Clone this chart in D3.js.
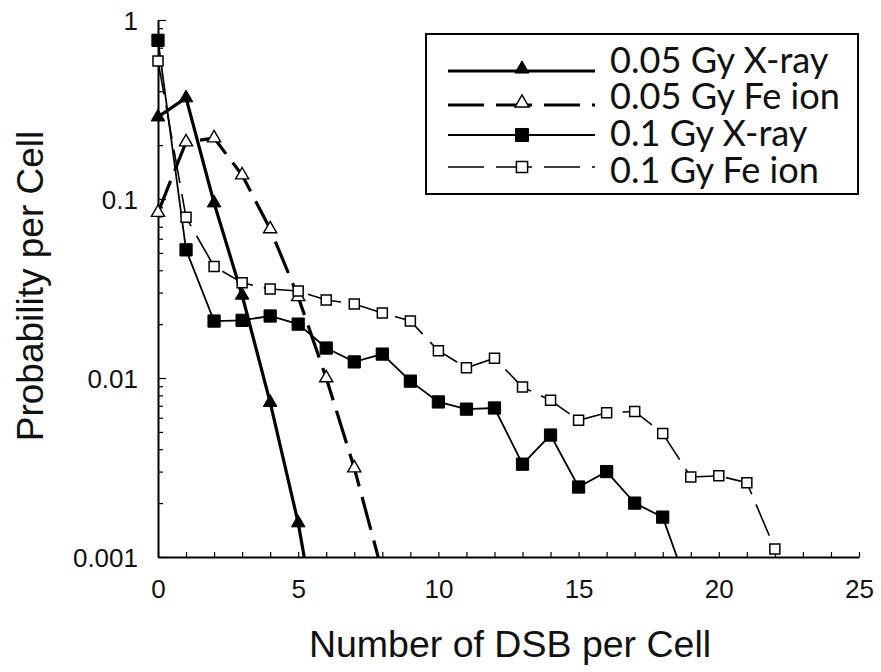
<!DOCTYPE html>
<html><head><meta charset="utf-8">
<script src="https://cdn.jsdelivr.net/npm/d3@7"></script>
<style>body{margin:0;background:#fff}svg{display:block}</style>
</head><body>
<svg id="c" width="881" height="672"></svg>
<script>
// ---------- data ----------
const seriesNames = ["0.05 Gy X-ray", "0.05 Gy Fe ion", "0.1 Gy X-ray", "0.1 Gy Fe ion"];
const xray005X = [0, 1, 2, 3, 4, 5, 6];
const xray005Y = [0.287, 0.367, 0.095, 0.029, 0.0073, 0.00155, 0.0002];
const fe005X = [0, 1, 2, 3, 4, 5, 6, 7, 8];
const fe005Y = [0.084, 0.208, 0.219, 0.136, 0.068, 0.0284, 0.0100, 0.00314, 0.00082];
const xray01X = [0, 1, 2, 3, 4, 5, 6, 7, 8, 9, 10, 11, 12, 13, 14, 15, 16, 17, 18, 19];
const xray01Y = [0.77, 0.052, 0.0208, 0.021, 0.0222, 0.020, 0.0147, 0.0123, 0.0136, 0.0096,
                 0.00735, 0.0067, 0.0068, 0.0033, 0.0048, 0.00246, 0.0030, 0.0020, 0.00167, 0.00061];
const fe01X = [0, 1, 2, 3, 4, 5, 6, 7, 8, 9, 10, 11, 12, 13, 14, 15, 16, 17, 18, 19, 20, 21, 22];
const fe01Y = [0.59, 0.079, 0.042, 0.034, 0.0314, 0.0306, 0.0273, 0.0259, 0.0231, 0.0208,
               0.0142, 0.0114, 0.0129, 0.0089, 0.0075, 0.0058, 0.0064, 0.0065, 0.0049, 0.0028,
               0.00284, 0.0026, 0.00111];
const xTickValues = [0, 5, 10, 15, 20, 25];
const yTickValues = [0.001, 0.01, 0.1, 1];
const yTickLabels = ["0.001", "0.01", "0.1", "1"];
const xTitle = "Number of DSB per Cell";
const yTitle = "Probability per Cell";

// ---------- layout ----------
const L = 158, R = 859, T = 20, B = 557;
const svg = d3.select("#c");
const x = d3.scaleLinear().domain([0, 25]).range([L, R]);
const y = d3.scaleLog().domain([0.001, 1]).range([B, T]);
const tickFont = "'Liberation Sans', Arial, Helvetica, sans-serif";

const styles = [
  {w: 3.2, dash: null, sym: d3.symbolTriangle, size: 80, fill: "#000", stroke: "#000", sw: 1},
  {w: 3.2, dash: "34,11", sym: d3.symbolTriangle, size: 75, fill: "#fff", stroke: "#000", sw: 1.4},
  {w: 1.8, dash: null, sym: d3.symbolSquare, size: 150, fill: "#000", stroke: "#000", sw: 1},
  {w: 1.6, dash: "34,11", sym: d3.symbolSquare, size: 100, fill: "#fff", stroke: "#000", sw: 1.5}
];
const series = [
  {xs: xray005X, ys: xray005Y},
  {xs: fe005X, ys: fe005Y},
  {xs: xray01X, ys: xray01Y},
  {xs: fe01X, ys: fe01Y}
].map((s, i) => ({name: seriesNames[i], st: styles[i],
  pts: s.xs.map((v, j) => ({x: v, y: s.ys[j]}))}));

svg.append("defs").append("clipPath").attr("id", "clip")
  .append("rect").attr("x", L).attr("y", T - 20).attr("width", R - L).attr("height", B - T + 20);

// ---------- axes ----------
const minorY = [];
for (let e = -3; e < 0; e++) for (let m = 1; m < 10; m++) minorY.push(m * Math.pow(10, e));
minorY.push(1);
const yAxis = d3.axisLeft(y).tickValues(minorY).tickSizeInner(-5).tickSizeOuter(0).tickPadding(20)
  .tickFormat(d => { const k = yTickValues.findIndex(v => Math.abs(v - d) / d < 1e-6); return k >= 0 ? yTickLabels[k] : ""; });
const gy = svg.append("g").attr("transform", `translate(${L},0)`).call(yAxis);
gy.selectAll(".tick line").attr("x2", d => yTickValues.some(v => Math.abs(v - d) / d < 1e-6) ? 8 : 5)
  .attr("stroke", "#000").attr("stroke-width", 1.2);
gy.selectAll(".tick text").attr("dy", "0.38em").attr("font-family", tickFont).attr("font-size", 26).attr("fill", "#111");
gy.select(".domain").attr("stroke", "#000").attr("stroke-width", 2);

const xAxis = d3.axisBottom(x).tickValues(d3.range(0, 26)).tickSizeInner(-5).tickSizeOuter(0).tickPadding(23)
  .tickFormat(d => xTickValues.includes(d) ? String(d) : "");
const gx = svg.append("g").attr("transform", `translate(0,${B})`).call(xAxis);
gx.selectAll(".tick line").attr("stroke", "#000").attr("stroke-width", 1.2);
gx.selectAll(".tick text").attr("font-family", tickFont).attr("font-size", 26).attr("fill", "#111");
gx.select(".domain").attr("stroke", "#000").attr("stroke-width", 2);

svg.append("text").attr("x", 510).attr("y", 657).attr("text-anchor", "middle")
  .attr("font-family", tickFont).attr("font-size", 37.5).attr("fill", "#111").text(xTitle);
svg.append("text").attr("transform", "translate(43,286) rotate(-90)").attr("text-anchor", "middle")
  .attr("font-family", tickFont).attr("font-size", 37).attr("fill", "#111").text(yTitle);

// ---------- lines ----------
const line = d3.line().x(d => x(d.x)).y(d => y(d.y));
const gl = svg.append("g").attr("clip-path", "url(#clip)");
series.forEach(s => {
  gl.append("path").datum(s.pts).attr("d", line).attr("fill", "none")
    .attr("stroke", "#000").attr("stroke-width", s.st.w)
    .attr("stroke-dasharray", s.st.dash).attr("stroke-linejoin", "miter");
});
// ---------- markers ----------
series.forEach(s => {
  svg.append("g").selectAll("path").data(s.pts.filter(d => d.y >= 0.001)).join("path")
    .attr("transform", d => `translate(${x(d.x)},${y(d.y)})`)
    .attr("d", d3.symbol().type(s.st.sym).size(s.st.size))
    .attr("fill", s.st.fill).attr("stroke", s.st.stroke).attr("stroke-width", s.st.sw);
});

// ---------- legend ----------
const leg = svg.append("g");
leg.append("rect").attr("x", 426).attr("y", 34).attr("width", 432).attr("height", 160)
  .attr("fill", "#fff").attr("stroke", "#000").attr("stroke-width", 2);
const lineY = [71, 105, 135, 167];
const textY = [73, 109, 146, 183];
const legFont = "Lato, 'Open Sans', sans-serif";
const probe = svg.append("text").attr("font-family", legFont).attr("font-size", 36).text(seriesNames[1]);
const fs = 36 * 230 / probe.node().getComputedTextLength();
probe.remove();
const legSizes = [85, 85, 170, 125];
series.forEach((s, i) => {
  leg.append("line").attr("x1", 448).attr("x2", 595).attr("y1", lineY[i]).attr("y2", lineY[i])
    .attr("stroke", "#000").attr("stroke-width", s.st.w).attr("stroke-dasharray", s.st.dash ? "36,12" : null);
  leg.append("path").attr("transform", `translate(522,${lineY[i] - (s.st.sym === d3.symbolTriangle ? 2 : 0)})`)
    .attr("d", d3.symbol().type(s.st.sym).size(legSizes[i]))
    .attr("fill", s.st.fill).attr("stroke", s.st.stroke).attr("stroke-width", s.st.sw);
  leg.append("text").attr("x", 610).attr("y", textY[i]).attr("font-family", legFont)
    .attr("font-size", fs).attr("fill", "#111").text(s.name);
});
</script>
</body></html>
